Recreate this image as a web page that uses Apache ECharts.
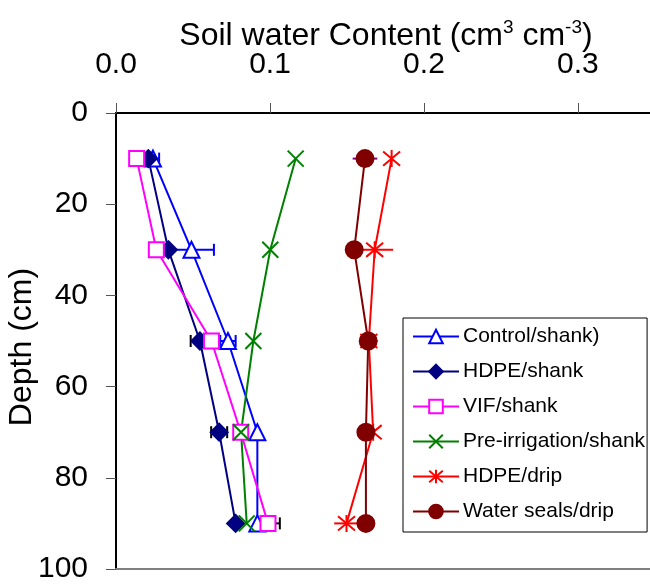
<!DOCTYPE html>
<html>
<head>
<meta charset="utf-8">
<script src="https://cdn.jsdelivr.net/npm/echarts@6/dist/echarts.min.js"></script>
<style>
  html, body { margin: 0; padding: 0; background: #fff; }
  #chart { width: 650px; height: 584px; }
</style>
</head>
<body>
<div id="chart"></div>
<script>
// Sampling depths (cm)
const depths = [10, 30, 50, 70, 90];

// Volumetric soil water content (cm3 cm-3) at each depth, with error half-widths
const controlShank   = [0.024, 0.049, 0.0727, 0.0918, 0.0918];
const controlErr     = [0.004, 0.0146, 0.005, 0, 0];
const hdpeShank      = [0.021, 0.034, 0.0545, 0.067, 0.0777];
const hdpeShankErr   = [0, 0, 0.006, 0.0052, 0];
const vifShank       = [0.0134, 0.0262, 0.062, 0.081, 0.0987];
const vifShankErr    = [0, 0, 0, 0, 0.0077];
const preIrrigation  = [0.1167, 0.1002, 0.0892, 0.0812, 0.0849];
const hdpeDrip       = [0.179, 0.168, 0.1642, 0.167, 0.1497];
const hdpeDripErr    = [0, 0.012, 0, 0, 0.008];
const waterSeals     = [0.1617, 0.1547, 0.1638, 0.1623, 0.1623];
const waterSealsErr  = [0.008, 0, 0.006, 0, 0];

// Axis ticks; the plot area is cut off at the right edge, past the 0.3 tick
const xTicks = [0.0, 0.1, 0.2, 0.3];
const xMax = 0.3468;
const yTicks = [0, 20, 40, 60, 80, 100];

const FONT = 'Liberation Sans, Arial, sans-serif';
const X_SYMBOL = 'path://M0,0L10,10M10,0L0,10';
const STAR_SYMBOL = 'path://M0,0L10,10M10,0L0,10M5,-1L5,11';

function pairs(values) {
  return depths.map((d, i) => [values[i], d]);
}

function lineSeries(name, values, color, symbol, size, filled) {
  return {
    type: 'line',
    name: name,
    data: pairs(values),
    z: 3,
    symbol: symbol,
    symbolSize: size,
    showSymbol: true,
    lineStyle: { color: color, width: 2 },
    itemStyle: {
      color: filled ? color : '#fff',
      borderColor: color,
      borderWidth: 2,
      opacity: 1
    },
    emphasis: { disabled: true }
  };
}

function errorSeries(name, values, errs, color, cap) {
  const data = depths
    .map((d, i) => [values[i], d, errs[i]])
    .filter(r => r[2] > 0);
  return {
    type: 'custom',
    name: name,
    silent: true,
    z: 2,
    encode: { x: 0, y: 1 },
    data: data,
    renderItem: function (params, api) {
      const x = api.value(0), y = api.value(1), e = api.value(2);
      const lo = api.coord([x - e, y]);
      const hi = api.coord([x + e, y]);
      const children = [{
        type: 'line',
        shape: { x1: lo[0], y1: lo[1], x2: hi[0], y2: hi[1] },
        style: { stroke: color, lineWidth: 2 }
      }];
      if (cap > 0) {
        [lo, hi].forEach(p => children.push({
          type: 'line',
          shape: { x1: p[0], y1: p[1] - cap / 2, x2: p[0], y2: p[1] + cap / 2 },
          style: { stroke: color, lineWidth: 2 }
        }));
      }
      return { type: 'group', children: children };
    }
  };
}

const chart = echarts.init(document.getElementById('chart'), null, { renderer: 'canvas' });

const option = {
  animation: false,
  backgroundColor: '#fff',
  grid: { left: 116, top: 113, right: 0, height: 459 },
  xAxis: [
    {
      type: 'value',
      position: 'top',
      min: 0,
      max: xMax,
      interval: 0.1,
      axisLine: { onZero: false, lineStyle: { color: '#000', width: 2 } },
      axisTick: { inside: false, length: 10, lineStyle: { color: '#555', width: 1 } },
      axisLabel: {
        margin: 33,
        fontSize: 30,
        fontFamily: FONT,
        color: '#000',
        showMaxLabel: false,
        formatter: v => (xTicks.some(t => Math.abs(t - v) < 1e-9) ? v.toFixed(1) : '')
      },
      splitLine: { show: false }
    },
    {
      type: 'value',
      position: 'bottom',
      min: 0,
      max: xMax,
      axisLine: { onZero: false, lineStyle: { color: '#808080', width: 2 } },
      axisTick: { show: false },
      axisLabel: { show: false },
      splitLine: { show: false }
    }
  ],
  yAxis: {
    type: 'value',
    inverse: true,
    min: 0,
    max: 100,
    interval: 20,
    axisLine: { onZero: false, lineStyle: { color: '#000', width: 2 } },
    axisTick: { inside: false, length: 10, lineStyle: { color: '#555', width: 1 } },
    axisLabel: {
      margin: 28,
      fontSize: 30,
      fontFamily: FONT,
      color: '#000',
      formatter: v => (yTicks.indexOf(v) >= 0 ? String(v) : '')
    },
    splitLine: { show: false }
  },
  legend: {
    orient: 'vertical',
    left: 403,
    top: 318,
    padding: [8, 2, 10, 9],
    itemWidth: 46,
    itemHeight: 17,
    itemGap: 14,
    backgroundColor: '#fff',
    borderColor: '#000',
    borderWidth: 1,
    z: 10,
    selectedMode: false,
    textStyle: { fontSize: 21, fontFamily: FONT, color: '#000', lineHeight: 21, padding: [0, 0, 0, -1] },
    data: ['Control/shank)', 'HDPE/shank', 'VIF/shank', 'Pre-irrigation/shank', 'HDPE/drip', 'Water seals/drip']
  },
  graphic: [
    {
      type: 'text',
      x: 386,
      y: 36,
      style: {
        text: '{a|Soil water Content (cm}{s|3}{a| cm}{s|-3}{a|)}',
        align: 'center',
        verticalAlign: 'middle',
        fill: '#000',
        rich: {
          a: { fontSize: 32, fontFamily: FONT, lineHeight: 36, fill: '#000' },
          s: { fontSize: 19, fontFamily: FONT, lineHeight: 36, verticalAlign: 'top', fill: '#000' }
        }
      }
    },
    {
      type: 'text',
      x: 22,
      y: 347,
      rotation: Math.PI / 2,
      style: {
        text: 'Depth (cm)',
        align: 'center',
        verticalAlign: 'middle',
        font: '32px ' + FONT,
        fill: '#000'
      }
    }
  ],
  series: [
    errorSeries('controlErr', controlShank, controlErr, '#0000ff', 12),
    errorSeries('hdpeShankErr', hdpeShank, hdpeShankErr, '#000000', 12),
    errorSeries('vifShankErr', vifShank, vifShankErr, '#000000', 12),
    errorSeries('hdpeDripErr', hdpeDrip, hdpeDripErr, '#ff0000', 0),
    errorSeries('waterSealsErr', waterSeals, waterSealsErr, '#800080', 0),
    lineSeries('Control/shank)', controlShank, '#0000ff', 'triangle', 16, false),
    lineSeries('HDPE/shank', hdpeShank, '#000080', 'diamond', 17, true),
    lineSeries('VIF/shank', vifShank, '#ff00ff', 'rect', 15, false),
    lineSeries('Pre-irrigation/shank', preIrrigation, '#008000', X_SYMBOL, 16, false),
    lineSeries('HDPE/drip', hdpeDrip, '#ff0000', STAR_SYMBOL, 17, false),
    lineSeries('Water seals/drip', waterSeals, '#800000', 'circle', 17, true)
  ]
};

chart.setOption(option);
</script>
</body>
</html>
